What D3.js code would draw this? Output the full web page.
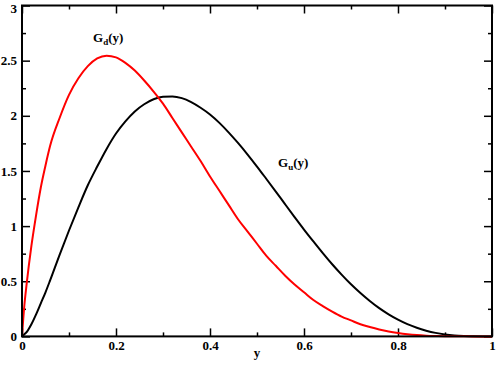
<!DOCTYPE html>
<html>
<head>
<meta charset="utf-8">
<script src="https://cdn.jsdelivr.net/npm/d3@7"></script>
<style>
  body { margin: 0; background: #fff; }
  svg { display: block; }
  .axis text { font-family: "Liberation Serif", "Times New Roman", serif; font-weight: bold; font-size: 13px; fill: #000; }
  .lbl { font-family: "Liberation Serif", "Times New Roman", serif; font-weight: bold; font-size: 13px; fill: #000; }
</style>
</head>
<body>
<svg id="chart" width="498" height="365"></svg>
<script>
// values
let yGrid = [0, 0.005, 0.01, 0.02, 0.03, 0.04, 0.05, 0.06, 0.08, 0.1, 0.12, 0.14, 0.16, 0.18, 0.2,
             0.22, 0.24, 0.26, 0.28, 0.3, 0.32, 0.34, 0.36, 0.38, 0.4, 0.42, 0.44, 0.46, 0.48, 0.5,
             0.52, 0.54, 0.56, 0.58, 0.6, 0.62, 0.64, 0.66, 0.68, 0.7, 0.72, 0.74, 0.76, 0.78, 0.8,
             0.82, 0.84, 0.86, 0.88, 0.9, 0.92, 0.94, 0.96, 0.98, 1];
let Gd = [0, 0.28, 0.48, 0.82, 1.1, 1.35, 1.55, 1.73, 1.98, 2.19, 2.34, 2.45, 2.52, 2.545, 2.53,
          2.48, 2.41, 2.32, 2.22, 2.11, 1.98, 1.85, 1.72, 1.59, 1.45, 1.32, 1.19, 1.06, 0.95, 0.84,
          0.73, 0.64, 0.55, 0.47, 0.40, 0.33, 0.275, 0.225, 0.18, 0.145, 0.11, 0.085, 0.063, 0.045, 0.031,
          0.02, 0.012, 0.007, 0.004, 0.002, 0.001, 0.0005, 0.0002, 0, 0];
let Gu = [0, 0.02, 0.04, 0.11, 0.2, 0.3, 0.4, 0.51, 0.74, 0.96, 1.17, 1.37, 1.54, 1.70, 1.84,
          1.95, 2.04, 2.105, 2.15, 2.172, 2.175, 2.16, 2.124, 2.073, 2.012, 1.936, 1.848, 1.752, 1.649, 1.54,
          1.427, 1.313, 1.197, 1.082, 0.969, 0.861, 0.755, 0.654, 0.56, 0.472, 0.393, 0.321, 0.256, 0.2, 0.152,
          0.111, 0.078, 0.052, 0.032, 0.018, 0.009, 0.004, 0.001, 0.0001, 0];
let xTicks = [0, 0.2, 0.4, 0.6, 0.8, 1];
let xMinor = [0.1, 0.3, 0.5, 0.7, 0.9];
let yTicks = [0, 0.5, 1, 1.5, 2, 2.5, 3];
let yMinor = [0.25, 0.75, 1.25, 1.75, 2.25, 2.75];

let margin = {top: 5.5, right: 6, bottom: 28.6, left: 22};
let svgWidth = 498, svgHeight = 365;
let width = svgWidth - margin.left - margin.right;
let height = svgHeight - margin.top - margin.bottom;

let svg = d3.select('#chart');
let g = svg.append('g').attr('transform', 'translate(' + margin.left + ',' + margin.top + ')');

let x = d3.scaleLinear().domain([0, 1]).range([0, width]);
let y = d3.scaleLinear().domain([0, 3]).range([height, 0]);

let fmt = d => String(d);

// major + minor ticks, pointing inward on all four sides
g.append('g').attr('class', 'axis').attr('transform', 'translate(0,' + height + ')')
  .call(d3.axisBottom(x).tickValues(xTicks).tickFormat(fmt).tickSize(-8).tickPadding(4));
g.append('g').attr('class', 'axis minor').attr('transform', 'translate(0,' + height + ')')
  .call(d3.axisBottom(x).tickValues(xMinor).tickFormat('').tickSize(-4));
g.append('g').attr('class', 'axis')
  .call(d3.axisTop(x).tickValues(xTicks).tickFormat('').tickSize(-8));
g.append('g').attr('class', 'axis minor')
  .call(d3.axisTop(x).tickValues(xMinor).tickFormat('').tickSize(-4));

let yAxis = g.append('g').attr('class', 'axis')
  .call(d3.axisLeft(y).tickValues(yTicks).tickFormat(fmt).tickSize(-8).tickPadding(5));
// top label sits a little lower so it is not clipped
yAxis.selectAll('.tick').filter(d => d === 3).select('text').attr('dy', '0.5em');
g.append('g').attr('class', 'axis minor')
  .call(d3.axisLeft(y).tickValues(yMinor).tickFormat('').tickSize(-4));
g.append('g').attr('class', 'axis').attr('transform', 'translate(' + width + ',0)')
  .call(d3.axisRight(y).tickValues(yTicks).tickFormat('').tickSize(-8));
g.append('g').attr('class', 'axis minor').attr('transform', 'translate(' + width + ',0)')
  .call(d3.axisRight(y).tickValues(yMinor).tickFormat('').tickSize(-4));

g.selectAll('.axis .domain').remove();
g.selectAll('.axis line').attr('stroke', '#000').attr('stroke-width', 1.5);

let line = d3.line()
  .x((d, i) => x(yGrid[i]))
  .y(d => y(d))
  .curve(d3.curveMonotoneX);

g.append('path').datum(Gu)
  .attr('fill', 'none').attr('stroke', '#000').attr('stroke-width', 2)
  .attr('d', line);
g.append('path').datum(Gd)
  .attr('fill', 'none').attr('stroke', '#ff0000').attr('stroke-width', 2)
  .attr('d', line);

// frame
g.append('rect').attr('x', 0).attr('y', 0).attr('width', width).attr('height', height)
  .attr('fill', 'none').attr('stroke', '#000').attr('stroke-width', 2);

// curve labels
function label(px, py, sub) {
  let t = svg.append('text').attr('class', 'lbl').attr('x', px).attr('y', py);
  t.append('tspan').text('G');
  t.append('tspan').attr('dy', 3).style('font-size', '9px').text(sub);
  t.append('tspan').attr('dy', -3).text('(y)');
}
label(93, 42, 'd');
label(278, 167, 'u');

svg.append('text').attr('class', 'lbl')
  .attr('x', margin.left + width / 2).attr('y', 357)
  .attr('text-anchor', 'middle').text('y');
</script>
</body>
</html>
